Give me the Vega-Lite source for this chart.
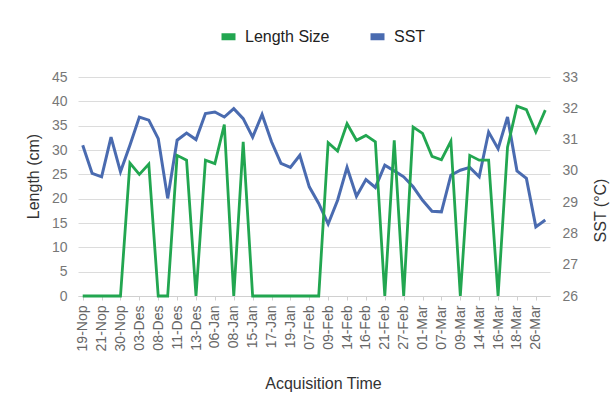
{
  "$schema": "https://vega.github.io/schema/vega-lite/v6.json",
  "width": 472,
  "height": 219,
  "autosize": {"type": "none"},
  "padding": {"left": 78, "top": 77, "right": 65, "bottom": 120},
  "background": "white",
  "config": {"view": {"stroke": null}, "font": "Liberation Sans"},
  "data": {"values": [
    {"d": "19-Nop", "len": 0, "sst": 30.82},
    {"d": "20-Nop", "len": 0, "sst": 29.92},
    {"d": "21-Nop", "len": 0, "sst": 29.81},
    {"d": "29-Nop", "len": 0, "sst": 31.08},
    {"d": "30-Nop", "len": 0, "sst": 29.97},
    {"d": "02-Des", "len": 27.3, "sst": 30.82},
    {"d": "03-Des", "len": 25, "sst": 31.72},
    {"d": "05-Des", "len": 27.1, "sst": 31.62},
    {"d": "08-Des", "len": 0, "sst": 31.03},
    {"d": "10-Des", "len": 0, "sst": 29.12},
    {"d": "11-Des", "len": 28.9, "sst": 30.98},
    {"d": "12-Des", "len": 27.9, "sst": 31.21},
    {"d": "13-Des", "len": 0, "sst": 31.0},
    {"d": "05-Jan", "len": 27.9, "sst": 31.83},
    {"d": "06-Jan", "len": 27.2, "sst": 31.88},
    {"d": "07-Jan", "len": 35.2, "sst": 31.72},
    {"d": "08-Jan", "len": 0, "sst": 31.99},
    {"d": "14-Jan", "len": 31.7, "sst": 31.67},
    {"d": "15-Jan", "len": 0, "sst": 31.08},
    {"d": "16-Jan", "len": 0, "sst": 31.8},
    {"d": "17-Jan", "len": 0, "sst": 30.93},
    {"d": "18-Jan", "len": 0, "sst": 30.24},
    {"d": "19-Jan", "len": 0, "sst": 30.11},
    {"d": "20-Jan", "len": 0, "sst": 30.5},
    {"d": "07-Feb", "len": 0, "sst": 29.49},
    {"d": "08-Feb", "len": 0, "sst": 28.96},
    {"d": "09-Feb", "len": 31.5, "sst": 28.3},
    {"d": "13-Feb", "len": 29.8, "sst": 29.06},
    {"d": "14-Feb", "len": 35.4, "sst": 30.11},
    {"d": "15-Feb", "len": 32, "sst": 29.19},
    {"d": "16-Feb", "len": 33, "sst": 29.72},
    {"d": "20-Feb", "len": 31.7, "sst": 29.47},
    {"d": "21-Feb", "len": 0, "sst": 30.18},
    {"d": "26-Feb", "len": 32, "sst": 30.0},
    {"d": "27-Feb", "len": 0, "sst": 29.81},
    {"d": "28-Feb", "len": 34.7, "sst": 29.49},
    {"d": "01-Mar", "len": 33.4, "sst": 29.06},
    {"d": "06-Mar", "len": 28.7, "sst": 28.71},
    {"d": "07-Mar", "len": 28, "sst": 28.69},
    {"d": "08-Mar", "len": 31.8, "sst": 29.86},
    {"d": "09-Mar", "len": 0, "sst": 30.02},
    {"d": "13-Mar", "len": 28.9, "sst": 30.11},
    {"d": "14-Mar", "len": 27.9, "sst": 29.81},
    {"d": "15-Mar", "len": 27.9, "sst": 31.24},
    {"d": "16-Mar", "len": 0, "sst": 30.71},
    {"d": "17-Mar", "len": 30.6, "sst": 31.72},
    {"d": "18-Mar", "len": 39, "sst": 30.0},
    {"d": "19-Mar", "len": 38.3, "sst": 29.76},
    {"d": "26-Mar", "len": 33.7, "sst": 28.21},
    {"d": "27-Mar", "len": 38.2, "sst": 28.43}
  ]},
  "encoding": {
    "x": {
      "field": "d",
      "type": "ordinal",
      "sort": null,
      "scale": {"type": "point", "padding": 0.5},
      "axis": {
        "title": "Acquisition Time",
        "values": ["19-Nop","21-Nop","30-Nop","03-Des","08-Des","11-Des","13-Des","06-Jan","08-Jan","15-Jan","17-Jan","19-Jan","07-Feb","09-Feb","14-Feb","16-Feb","21-Feb","27-Feb","01-Mar","07-Mar","09-Mar","14-Mar","16-Mar","18-Mar","26-Mar"],
        "labelAngle": -90,
        "labelOverlap": false,
        "labelFontSize": 14,
        "labelColor": "#666666",
        "labelPadding": 5,
        "tickSize": 4,
        "tickColor": "#d0d0d0",
        "domainColor": "#d0d0d0",
        "grid": false,
        "titleFontSize": 16,
        "titleFontWeight": "normal",
        "titleColor": "#333333",
        "titleX": 245,
        "titleY": 87,
        "titleAlign": "center",
        "titleBaseline": "middle"
      }
    }
  },
  "layer": [
    {
      "mark": {"type": "line", "strokeWidth": 3},
      "encoding": {
        "y": {
          "field": "sst",
          "type": "quantitative",
          "scale": {"domain": [26, 33], "zero": false},
          "axis": {
            "orient": "right",
            "title": "SST (°C)",
            "values": [26, 27, 28, 29, 30, 31, 32, 33],
            "grid": false,
            "domain": false,
            "ticks": false,
            "labelPadding": 12,
            "labelFontSize": 14,
            "labelColor": "#777777",
            "titleFontSize": 16,
            "titleFontWeight": "normal",
            "titleColor": "#333333",
            "titleX": 50,
            "titleY": 133,
            "titleAngle": 270,
            "titleAlign": "center",
            "titleBaseline": "middle"
          }
        },
        "color": {"datum": "SST", "type": "nominal"}
      }
    },
    {
      "mark": {"type": "line", "strokeWidth": 2.8},
      "encoding": {
        "y": {
          "field": "len",
          "type": "quantitative",
          "scale": {"domain": [0, 45]},
          "axis": {
            "orient": "left",
            "title": "Length (cm)",
            "values": [0, 5, 10, 15, 20, 25, 30, 35, 40, 45],
            "grid": true,
            "gridColor": "#dcdcdc",
            "domain": false,
            "ticks": false,
            "labelPadding": 11,
            "labelFontSize": 14,
            "labelColor": "#777777",
            "titleFontSize": 16,
            "titleFontWeight": "normal",
            "titleColor": "#333333",
            "titleX": -45,
            "titleY": 99,
            "titleAngle": 270,
            "titleAlign": "center",
            "titleBaseline": "middle"
          }
        },
        "color": {
          "datum": "Length Size",
          "type": "nominal",
          "scale": {"domain": ["Length Size", "SST"], "range": ["#22a650", "#4a6bb0"]},
          "legend": {
            "orient": "none",
            "legendX": 140,
            "legendY": -51,
            "direction": "horizontal",
            "title": null,
            "symbolType": "stroke",
            "symbolStrokeWidth": 7,
            "symbolSize": 196,
            "labelFontSize": 16,
            "labelColor": "#222222",
            "labelOffset": 6,
            "columnPadding": 26
          }
        }
      }
    }
  ],
  "resolve": {"scale": {"y": "independent"}}
}
